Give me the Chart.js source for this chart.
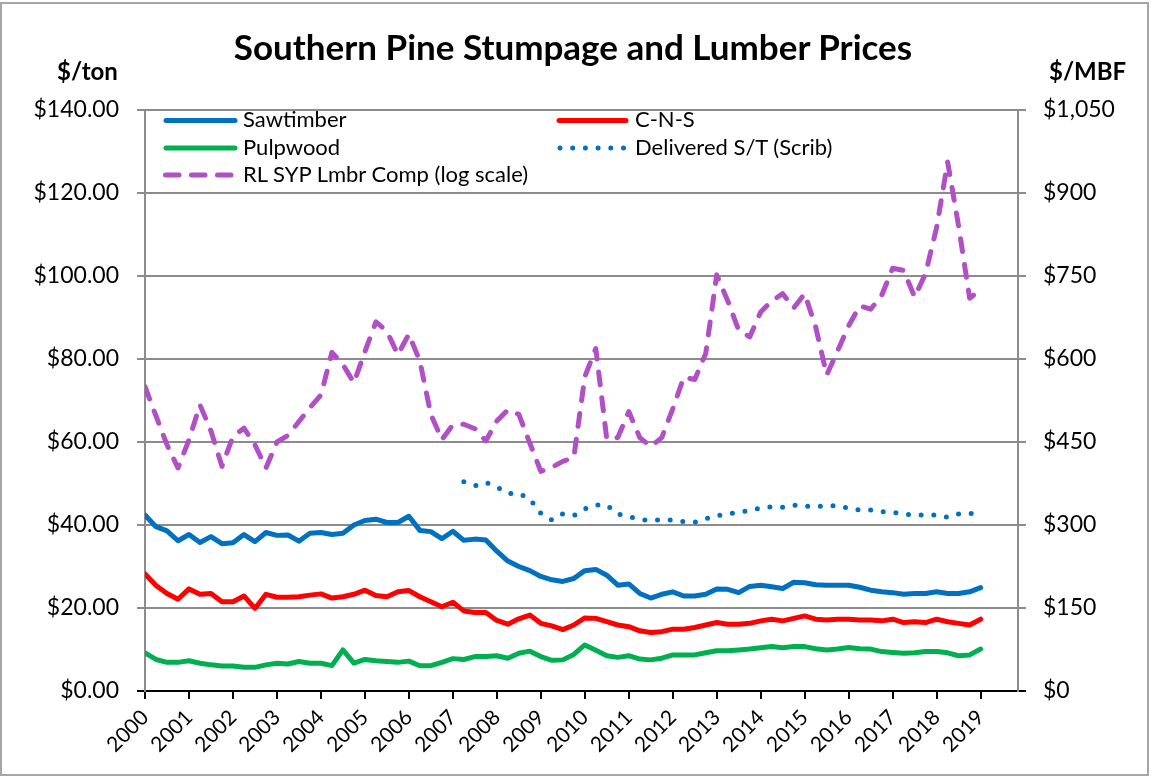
<!DOCTYPE html>
<html><head><meta charset="utf-8">
<script src="https://cdn.jsdelivr.net/npm/chart.js@4.4.1/dist/chart.umd.min.js"></script>
<style>
html,body{margin:0;padding:0;background:#fff;}
#wrap{position:relative;width:1153px;height:779px;overflow:hidden;font-family:Lato,'Open Sans',sans-serif;color:#000;}
#frame{position:absolute;left:0;top:2px;width:1149px;height:774px;border:2px solid #a6a6a6;box-sizing:border-box;pointer-events:none;}
canvas{position:absolute;left:0;top:0;}
.t{position:absolute;white-space:nowrap;color:#000;}
#title{left:0;width:1146px;top:24px;text-align:center;font-weight:700;font-size:35px;line-height:44px;}
.ax{font-weight:700;font-size:24px;line-height:28px;top:57px;}
.lg{font-size:22px;line-height:26px;}
svg{position:absolute;left:0;top:0;}
</style></head>
<body><div id="wrap">
<canvas id="c" width="1153" height="779"></canvas>
<div id="frame"></div>
<div class="t" id="title">Southern Pine Stumpage and Lumber Prices</div>
<div class="t ax" style="left:57px;">$/ton</div>
<div class="t ax" style="left:1049px;">$/MBF</div>
<svg width="1153" height="200">
  <line x1="166" y1="120.5" x2="235" y2="120.5" stroke="#0070C0" stroke-width="5" stroke-linecap="round"/>
  <line x1="166" y1="148" x2="235" y2="148" stroke="#00B050" stroke-width="5" stroke-linecap="round"/>
  <line x1="165.5" y1="175" x2="236" y2="175" stroke="#B04FC6" stroke-width="5" stroke-linecap="round" stroke-dasharray="13.5 12.5"/>
  <line x1="559" y1="120.5" x2="626" y2="120.5" stroke="#FF0000" stroke-width="5" stroke-linecap="round"/>
  <line x1="560" y1="148" x2="626" y2="148" stroke="#0070C0" stroke-width="5" stroke-linecap="round" stroke-dasharray="0 12.7"/>
</svg>
<div class="t lg" style="left:243px;top:106px;">Sawtimber</div>
<div class="t lg" style="left:243px;top:134px;">Pulpwood</div>
<div class="t lg" style="left:243px;top:161px;">RL SYP Lmbr Comp (log scale)</div>
<div class="t lg" style="left:635px;top:106px;">C-N-S</div>
<div class="t lg" style="left:635px;top:134px;">Delivered S/T (Scrib)</div>
</div>
<script>
// Years on the category axis (quarterly data, 2000 Q1 .. 2019 Q1)
const years = [2000,2001,2002,2003,2004,2005,2006,2007,2008,2009,2010,2011,2012,2013,2014,2015,2016,2017,2018,2019];

// $/ton (left axis)
const sawtimber = [42.4,39.6,38.6,36.2,37.7,35.8,37.2,35.5,35.7,37.7,
 36.0,38.2,37.5,37.6,36.1,38.0,38.2,37.7,38.0,40.0,
 41.1,41.4,40.6,40.6,42.1,38.7,38.4,36.7,38.5,36.3,
 36.6,36.4,33.7,31.3,30.0,29.0,27.6,26.8,26.4,27.1,
 29.0,29.3,27.9,25.5,25.8,23.5,22.4,23.3,23.9,22.9,
 22.9,23.3,24.6,24.5,23.7,25.2,25.5,25.1,24.7,26.2,
 26.1,25.6,25.5,25.5,25.5,25.0,24.3,23.9,23.7,23.3,
 23.5,23.5,23.9,23.5,23.5,23.9,24.9];

const cns = [28.2,25.4,23.5,22.1,24.6,23.3,23.5,21.5,21.5,22.9,
 19.9,23.3,22.6,22.6,22.7,23.1,23.4,22.4,22.7,23.3,
 24.3,23.0,22.7,23.9,24.2,22.7,21.5,20.3,21.4,19.3,
 18.9,18.9,17.0,16.1,17.4,18.3,16.3,15.7,14.8,15.9,
 17.6,17.5,16.7,15.9,15.5,14.5,14.1,14.3,14.9,14.9,
 15.3,15.9,16.5,16.1,16.1,16.3,16.9,17.3,16.9,17.5,
 18.1,17.3,17.1,17.3,17.3,17.1,17.1,16.9,17.3,16.5,
 16.7,16.5,17.3,16.7,16.3,15.9,17.3];

const pulpwood = [9.2,7.6,6.9,6.9,7.3,6.7,6.3,6.0,6.0,5.7,
 5.7,6.3,6.7,6.5,7.1,6.7,6.7,6.1,9.9,6.7,
 7.6,7.3,7.1,6.9,7.2,6.1,6.1,6.9,7.8,7.6,
 8.3,8.3,8.5,7.9,9.1,9.6,8.3,7.4,7.5,8.8,
 11.1,9.8,8.5,8.1,8.5,7.7,7.5,7.9,8.7,8.7,
 8.7,9.2,9.7,9.7,9.9,10.1,10.4,10.7,10.4,10.7,
 10.7,10.2,9.9,10.1,10.5,10.2,10.1,9.5,9.3,9.1,
 9.2,9.5,9.5,9.2,8.5,8.7,10.1];

// $/MBF (right axis)
const delivered = [null,null,null,null,null,null,null,null,null,null,
 null,null,null,null,null,null,null,null,null,null,
 null,null,null,null,null,null,null,null,null,
 378,371,377,369,357,357,347,321,309,320,
 317,329,336,336,320,315,310,308,310,309,
 306,305,311,317,320,323,326,331,333,332,
 336,334,333,335,335,330,327,327,324,323,
 320,318,318,318,314,320,321,321];

const lumber = [550,497,445,403,454,517,470,406,460,475,
 445,403,450,462,487,512,535,612,590,557,
 613,667,650,608,645,596,500,454,481,482,
 474,452,488,508,500,448,397,404,415,422,
 568,619,455,458,505,458,442,458,510,567,
 563,610,752,705,652,640,685,705,718,692,
 718,658,571,615,660,696,690,715,764,760,
 712,755,838,956,840,710,725];

const leftTicks = [0,20,40,60,80,100,120,140];
const rightTicks = [0,150,300,450,600,750,900,1050];

// quarter positions (category positions) on the time axis
const quarters = [];
for (const y of years) { for (let q = 0; q < 4; q++) quarters.push(y + q / 4); }
const pts = arr => arr.map((v, i) => ({ x: quarters[i], y: v }));

Chart.defaults.font.family = "Lato, 'Open Sans', sans-serif";
Chart.defaults.color = '#000';

new Chart(document.getElementById('c'), {
  type: 'line',
  data: {
    datasets: [
      { label: 'Sawtimber', data: pts(sawtimber), yAxisID: 'y', borderColor: '#0070C0', borderWidth: 5, pointRadius: 0, tension: 0, borderJoinStyle: 'round', borderCapStyle: 'round' },
      { label: 'C-N-S', data: pts(cns), yAxisID: 'y', borderColor: '#FF0000', borderWidth: 5, pointRadius: 0, tension: 0, borderJoinStyle: 'round', borderCapStyle: 'round' },
      { label: 'Pulpwood', data: pts(pulpwood), yAxisID: 'y', borderColor: '#00B050', borderWidth: 5, pointRadius: 0, tension: 0, borderJoinStyle: 'round', borderCapStyle: 'round' },
      { label: 'Delivered S/T (Scrib)', data: pts(delivered), yAxisID: 'y1', borderColor: '#0070C0', borderWidth: 5, pointRadius: 0, tension: 0, borderDash: [0, 12.7], borderCapStyle: 'round', borderJoinStyle: 'round' },
      { label: 'RL SYP Lmbr Comp (log scale)', data: pts(lumber), yAxisID: 'y1', borderColor: '#B04FC6', borderWidth: 5, pointRadius: 0, tension: 0, borderDash: [13, 13], borderCapStyle: 'round', borderJoinStyle: 'round' }
    ]
  },
  options: {
    responsive: false,
    animation: false,
    layout: { padding: { top: 110, left: 0, right: 0, bottom: 0 } },
    plugins: { legend: { display: false }, tooltip: { enabled: false }, title: { display: false } },
    scales: {
      x: {
        type: 'linear', min: years[0], max: years[years.length - 1] + 0.85,
        afterFit: s => { s.height = 88; },
        grid: { drawOnChartArea: false, drawTicks: true, tickLength: 8, color: '#000', lineWidth: 2 },
        border: { color: '#000', width: 2 },
        ticks: { stepSize: 1, includeBounds: false, autoSkip: false, maxRotation: 45, minRotation: 45, padding: 6,
                 font: { size: 21 }, color: '#000', callback: v => String(v) }
      },
      y: {
        position: 'left', min: leftTicks[0], max: leftTicks[leftTicks.length - 1],
        afterFit: s => { s.width = 145; },
        grid: { color: c => (c.tick && c.tick.value === 0 ? '#000' : '#8c8c8c'), lineWidth: 2, tickLength: 8 },
        border: { color: '#8c8c8c', width: 2 },
        afterBuildTicks: s => { s.ticks = leftTicks.map(v => ({ value: v })); },
        ticks: { padding: 18, font: { size: 23 }, color: '#000', callback: v => '$' + Number(v).toFixed(2) }
      },
      y1: {
        position: 'right', min: rightTicks[0], max: rightTicks[rightTicks.length - 1],
        afterFit: s => { s.width = 135; },
        grid: { drawOnChartArea: false, color: c => (c.tick && c.tick.value === 0 ? '#000' : '#8c8c8c'), lineWidth: 2, tickLength: 8 },
        border: { color: '#8c8c8c', width: 2 },
        afterBuildTicks: s => { s.ticks = rightTicks.map(v => ({ value: v })); },
        ticks: { padding: 17, font: { size: 23 }, color: '#000', callback: v => '$' + Number(v).toLocaleString('en-US') }
      }
    }
  }
});
</script>
</body></html>
